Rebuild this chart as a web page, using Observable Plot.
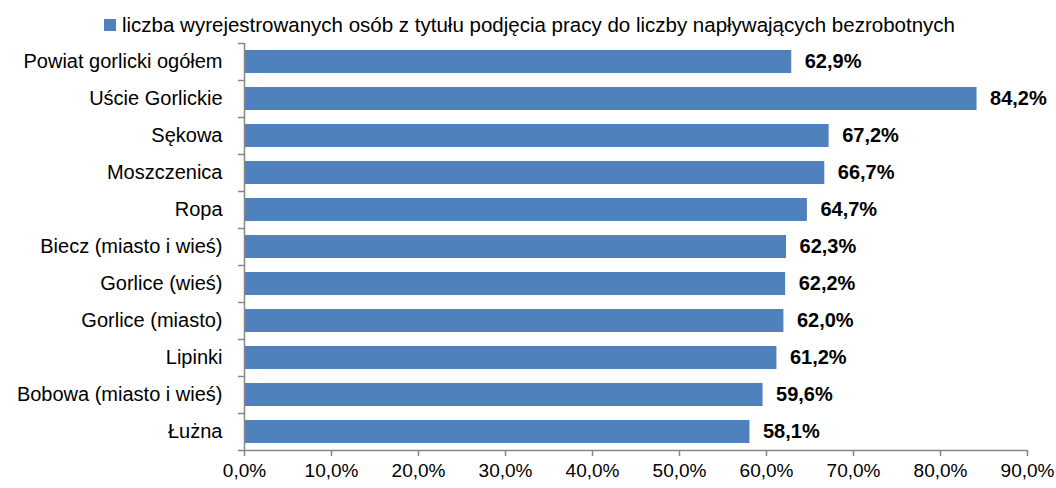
<!DOCTYPE html>
<html><head><meta charset="utf-8">
<script src="https://cdn.jsdelivr.net/npm/d3@7"></script>
<script src="https://cdn.jsdelivr.net/npm/@observablehq/plot@0.6"></script>
<style>
body{margin:0;background:#fff;font-family:"Liberation Sans",sans-serif;}
#wrap{position:relative;width:1056px;height:488px;}
#legend{position:absolute;left:104px;top:12px;height:26px;display:flex;align-items:center;font-size:20.5px;color:#000;white-space:nowrap;}
#legend .sw{width:12px;height:12px;background:#4F81BD;margin-right:6px;}
#chart{position:absolute;left:0;top:40px;}
</style></head>
<body><div id="wrap"><div id="legend"><div class="sw"></div><span id="legtext"></span></div><div id="chart"></div></div>
<script>
const categories = ["Powiat gorlicki ogółem","Uście Gorlickie","Sękowa","Moszczenica","Ropa","Biecz (miasto i wieś)","Gorlice (wieś)","Gorlice (miasto)","Lipinki","Bobowa (miasto i wieś)","Łużna"];
const values = [62.9,84.2,67.2,66.7,64.7,62.3,62.2,62.0,61.2,59.6,58.1];
const xTicks = [0,10,20,30,40,50,60,70,80,90];
const seriesName = "liczba wyrejestrowanych osób z tytułu podjęcia pracy do liczby napływających bezrobotnych";

document.getElementById("legtext").textContent = seriesName;

const data = categories.map((c,i)=>({cat:c, v:values[i]}));
const fmt = v => v.toFixed(1).replace(".", ",") + "%";
const axisColor = "#868686";
const step = 407/11;

const chart = Plot.plot({
  width: 1056,
  height: 448,
  marginLeft: 244,
  marginRight: 29,
  marginTop: 3,
  marginBottom: 38,
  style: {fontFamily: '"Liberation Sans", sans-serif', fontSize: "16px", color: "#000", background: "#fff"},
  x: {domain: [0, 90], ticks: xTicks, tickFormat: fmt, label: null},
  y: {domain: categories, paddingInner: 0.37, paddingOuter: 0.185, label: null},
  marks: [
    Plot.barX(data, {x: "v", y: "cat", fill: "#4F81BD"}),
    Plot.text(data, {x: "v", y: "cat", text: d => fmt(d.v), textAnchor: "start", dx: 13, fontWeight: "bold", fontSize: 20, fill: "#000"}),
    Plot.ruleX([0], {stroke: axisColor, strokeWidth: 1.5}),
    Plot.ruleY(categories, {y: d => d, x1: -0.7, x2: 0, dy: -step/2, stroke: axisColor, strokeWidth: 1.5}),
    Plot.ruleY([categories[categories.length-1]], {y: d => d, x1: -0.7, x2: 0, dy: step/2, stroke: axisColor, strokeWidth: 1.5}),
    Plot.axisX({ticks: xTicks, tickFormat: fmt, tickSize: 6, tickPadding: 7, stroke: axisColor, strokeWidth: 1.5, fontSize: 19, fill: "#000", label: null}),
    Plot.axisY({tickSize: 0, tickPadding: 22, fontSize: 20, fill: "#000", label: null}),
    Plot.ruleY([0], {y: () => categories[categories.length-1], dy: step/2, stroke: axisColor, strokeWidth: 1.5})
  ]
});
document.getElementById("chart").appendChild(chart);
</script></body></html>
